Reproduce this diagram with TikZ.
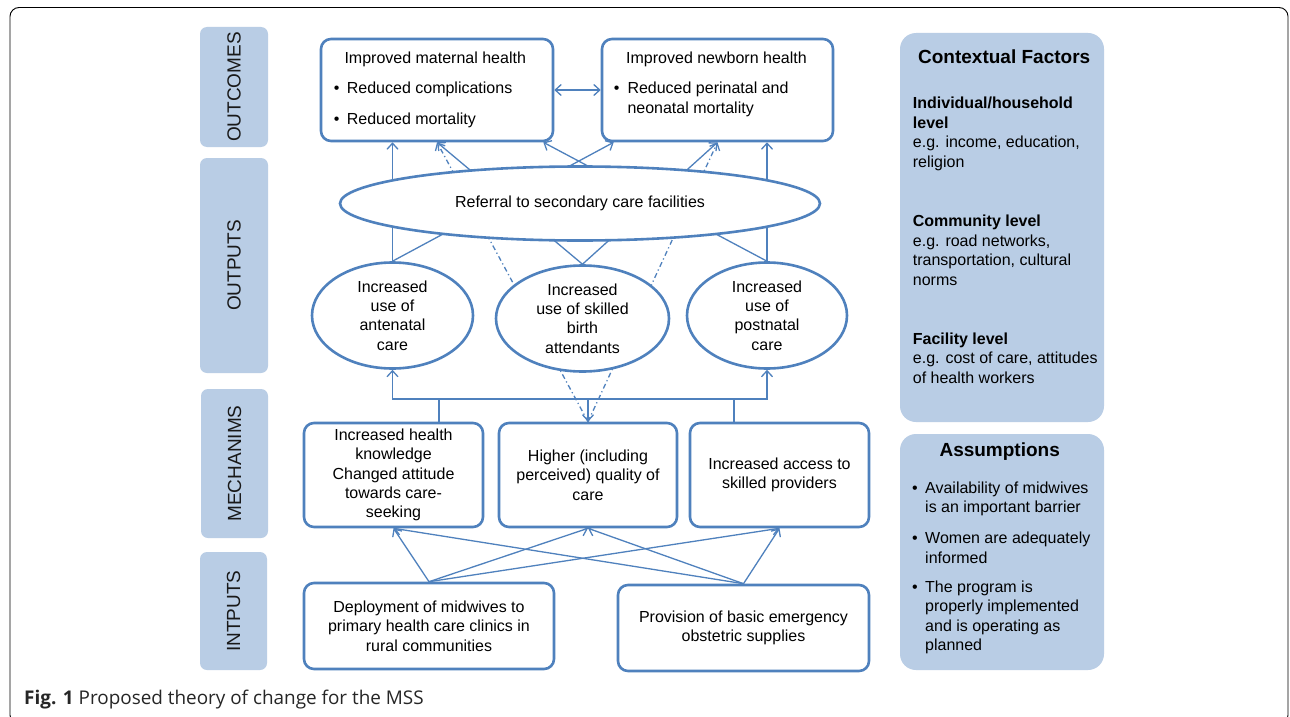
\documentclass[tikz,border=0pt]{standalone}
\usepackage{fontspec}
\setmainfont{Liberation Sans}
\newfontfamily\capfont{Open Sans}
\usetikzlibrary{arrows.meta,shapes.geometric,calc,backgrounds}
\definecolor{lineblue}{HTML}{4F81BD}
\definecolor{panelblue}{HTML}{B9CDE5}
\begin{document}
\begin{tikzpicture}[x=1pt,y=-1pt,
  font=\fontsize{16}{19.4}\selectfont,
  every node/.style={inner sep=0pt},
  >={Straight Barb[length=6pt,width=11pt]},
  conn/.style={draw=lineblue,line width=1.3pt},
  arr/.style={conn,->},
  dashdot/.style={dash pattern=on 5pt off 3pt on 1.2pt off 3pt},
  bluebox/.style={draw=lineblue,line width=2.6pt,rounded corners=10pt,fill=white,align=center},
  oval/.style={ellipse,draw=lineblue,line width=2.6pt,fill=white,align=center},
  sidelabel/.style={fill=panelblue,rounded corners=7pt,rotate=90,font=\fontsize{19}{19}\selectfont,text=black!90},
  panel/.style={fill=panelblue,rounded corners=16pt},
  ptitle/.style={anchor=base,font=\fontsize{19}{19}\selectfont\bfseries},
  ptext/.style={anchor=base west},
  pbold/.style={anchor=base west,font=\fontsize{16}{19.4}\selectfont\bfseries},
  bul/.style={anchor=base},
]
\useasboundingbox (0,0) rectangle (1290,717);
\begin{scope}[on background layer]
  \fill[white] (0,0) rectangle (1290,717);
\end{scope}
\draw[black,line width=0.9pt,rounded corners=9pt] (10,7.5) rectangle (1288,724);

% side labels
\node[sidelabel,minimum width=120,minimum height=68] (lOut) at (234,87) {OUTCOMES};
\node[sidelabel,minimum width=215,minimum height=68] (lOutp) at (234,265.5) {OUTPUTS};
\node[sidelabel,minimum width=149,minimum height=67] (lMech) at (234.5,463.5) {MECHANIMS};
\node[sidelabel,minimum width=118,minimum height=67] (lIn) at (233.5,611) {INTPUTS};

% outcomes
\node[bluebox,minimum width=232,minimum height=102] (mat) at (437,90) {};
\node[bluebox,minimum width=231,minimum height=102] (nb) at (717.5,90) {};
\node[ptext] (matT) at (344.3,63.8) {Improved maternal health};
\node[bul] (matB1) at (336.7,93.8) {\textbullet};
\node[ptext] (matL1) at (346.7,93.8) {Reduced complications};
\node[bul] (matB2) at (336.7,124.8) {\textbullet};
\node[ptext] (matL2) at (346.7,124.8) {Reduced mortality};
\node[ptext] (nbT) at (626,63.8) {Improved newborn health};
\node[bul] (nbB1) at (616.7,93.8) {\textbullet};
\node[ptext] (nbL1) at (627.3,93.8) {Reduced perinatal and};
\node[ptext] (nbL2) at (627.3,113.8) {neonatal mortality};

% outputs
\node[oval,minimum width=480,minimum height=74] (ref) at (580,203.5) {Referral to secondary care facilities};
\node[oval,minimum width=161,minimum height=106] (ante) at (392.5,315.5) {Increased\\use of\\antenatal\\care};
\node[oval,minimum width=173,minimum height=106] (mid) at (582.5,318.5) {Increased\\use of skilled\\birth\\attendants};
\node[oval,minimum width=160,minimum height=106] (post) at (767,315.5) {Increased\\use of\\postnatal\\care};

% mechanisms
\node[bluebox,minimum width=179,minimum height=104] (m1) at (393.5,475) {Increased health\\knowledge\\Changed attitude\\towards care-\\seeking};
\node[bluebox,minimum width=178,minimum height=104] (m2) at (588,475) {Higher (including\\perceived) quality of\\care};
\node[bluebox,minimum width=179,minimum height=104] (m3) at (779.5,475) {Increased access to\\skilled providers};

% inputs
\node[bluebox,minimum width=250,minimum height=86] (dep) at (429,626) {Deployment of midwives to\\primary health care clinics in\\rural communities};
\node[bluebox,minimum width=251,minimum height=86] (prov) at (743.5,628) {Provision of basic emergency\\obstetric supplies};

% panels
\node[panel,minimum width=204,minimum height=389] (ctx) at (1002,227.5) {};
\node[ptitle] (ctxT) at (1004.2,63.2) {Contextual Factors};
\node[pbold] (c1a) at (912.7,108.8) {Individual/household};
\node[pbold] (c1b) at (912.7,128.2) {level};
\node[ptext] (c1c) at (912.7,147.8) {e.g. income, education,};
\node[ptext] (c1d) at (912.7,167.2) {religion};
\node[pbold] (c2a) at (912.7,226.5) {Community level};
\node[ptext] (c2b) at (912.7,246.2) {e.g. road networks,};
\node[ptext] (c2c) at (912.7,265.6) {transportation, cultural};
\node[ptext] (c2d) at (912.7,285) {norms};
\node[pbold] (c3a) at (912.7,344.5) {Facility level};
\node[ptext] (c3b) at (912.7,363.9) {e.g. cost of care, attitudes};
\node[ptext] (c3c) at (912.7,383.3) {of health workers};

\node[panel,minimum width=204,minimum height=236] (asm) at (1002,552) {};
\node[ptitle] (asmT) at (999.7,456.5) {Assumptions};
\node[bul] (aB1) at (915,493.2) {\textbullet};
\node[ptext] (a1a) at (925,493.2) {Availability of midwives};
\node[ptext] (a1b) at (925,512.6) {is an important barrier};
\node[bul] (aB2) at (915,543.6) {\textbullet};
\node[ptext] (a2a) at (925,543.6) {Women are adequately};
\node[ptext] (a2b) at (925,563) {informed};
\node[bul] (aB3) at (915,592.5) {\textbullet};
\node[ptext] (a3a) at (925,592.5) {The program is};
\node[ptext] (a3b) at (925,611.9) {properly implemented};
\node[ptext] (a3c) at (925,631.3) {and is operating as};
\node[ptext] (a3d) at (925,650.7) {planned};

% caption
\node[anchor=base west,font=\capfont\fontsize{18.9}{21}\selectfont,text=black!85] (cap) at (24,704) {\textbf{Fig. 1} Proposed theory of change for the MSS};

\coordinate (bus) at (588,399);
\coordinate (m1top) at ($(m1.north west)!0.75!(m1.north east)$);
\coordinate (m3top) at ($(m3.north west)!0.25!(m3.north east)$);

\begin{scope}[on background layer]
  % outputs to outcomes
  \draw[arr] (ante.north) -- (ante.north |- mat.south);
  \draw[arr] (ante.north) -- ($(nb.south west)+(13,0)$);
  \draw[arr] (mid.north) -- (mat.south);
  \draw[arr] (mid.north) -- (nb.south);
  \draw[arr] (post.north) -- ($(mat.south east)+(-11,0)$);
  \draw[arr] (post.north) -- (post.north |- nb.south);
  \draw[arr,dashdot] (m2.north) -- (mat.south);
  \draw[arr,dashdot] (m2.north) -- (nb.south);
  % outcomes link
  \draw[conn,<->] (mat.east) -- (nb.west);
  % mechanisms to outputs
  \draw[conn,<->] (ante.south) -- (ante.south |- bus) -- (post.south |- bus) -- (post.south);
  \draw[conn] (m1top) -- (m1top |- bus);
  \draw[conn] (m3top) -- (m3top |- bus);
  \draw[arr] (m2.north |- bus) -- (m2.north);
  % inputs to mechanisms
  \foreach \s in {dep,prov}{
    \foreach \t in {m1,m2,m3}{
      \draw[arr] (\s.north) -- (\t.south);
    }
  }
\end{scope}
\end{tikzpicture}
\end{document}
